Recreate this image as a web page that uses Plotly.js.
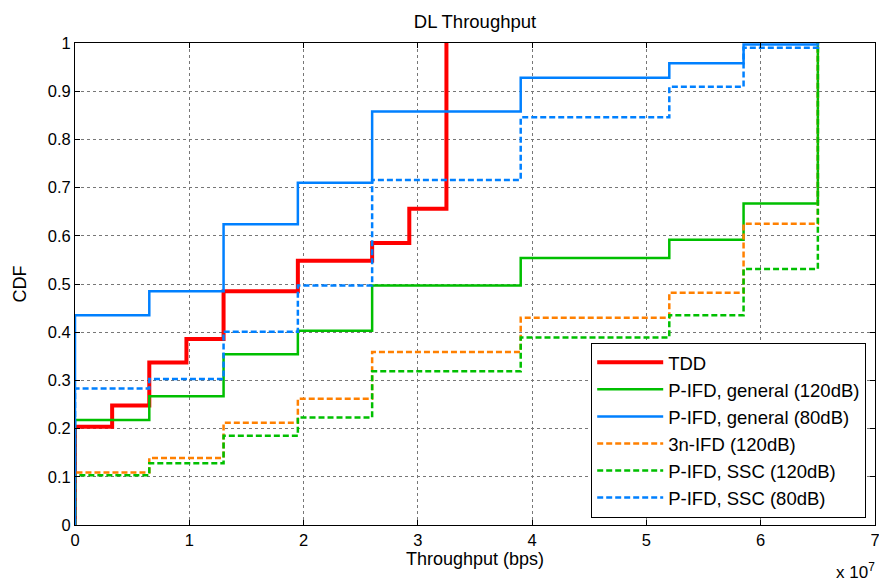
<!DOCTYPE html>
<html><head><meta charset="utf-8">
<script src="https://cdn.plot.ly/plotly-3.0.1.min.js"></script>
<style>html,body{margin:0;padding:0;background:#fff}#chart{width:879px;height:585px}</style>
</head><body><div id="chart"></div>
<script>
// Throughput in units of 1e7 bps
const tddX = [0, 0, 0.325, 0.65, 0.975, 1.3, 1.95, 2.6, 2.925, 3.25];
const tddY = [0, 0.204, 0.248, 0.337, 0.386, 0.485, 0.548, 0.585, 0.656, 1.0];
const stepX = [0, 0, 0.65, 1.3, 1.95, 2.6, 3.9, 5.2, 5.85, 6.5];
const gen120Y = [0, 0.218, 0.267, 0.354, 0.403, 0.497, 0.554, 0.592, 0.667, 1.0];
const gen80Y  = [0, 0.435, 0.485, 0.624, 0.710, 0.858, 0.928, 0.958, 0.997, 1.0];
const ifd3nY  = [0, 0.109, 0.139, 0.212, 0.262, 0.359, 0.430, 0.482, 0.625, 1.0];
const ssc120Y = [0, 0.103, 0.128, 0.185, 0.223, 0.319, 0.389, 0.435, 0.531, 1.0];
const ssc80Y  = [0, 0.283, 0.303, 0.401, 0.497, 0.716, 0.846, 0.909, 0.990, 1.0];
const names = ['TDD','P-IFD, general (120dB)','P-IFD, general (80dB)','3n-IFD (120dB)','P-IFD, SSC (120dB)','P-IFD, SSC (80dB)'];
const xTicks = [0,1,2,3,4,5,6,7];
const yTicks = [0,0.1,0.2,0.3,0.4,0.5,0.6,0.7,0.8,0.9,1];

const green = '#00bf00', blue = '#0080ff', orange = '#ff8000', red = '#ff0000';
const dashS = '6px,3px';
const mk = (x, y, name, color, width, dash, i) => ({
  x: x, y: y, name: name, type: 'scatter', mode: 'lines', legendgroup: 'g' + i,
  line: {shape: 'hv', color: color, width: width, dash: dash}
});
const traces = [
  mk(tddX, tddY, names[0], red, 4, 'solid', 0),
  mk(stepX, gen120Y, names[1], green, 2.5, 'solid', 1),
  mk(stepX, gen80Y, names[2], blue, 2.5, 'solid', 2),
  mk(stepX, ifd3nY, names[3], orange, 2.5, dashS, 3),
  mk(stepX, ssc120Y, names[4], green, 2.5, dashS, 4),
  mk(stepX, ssc80Y, names[5], blue, 2.5, dashS, 5)
];
const axisCommon = {
  showline: true, linecolor: '#000', linewidth: 1, mirror: 'allticks',
  ticks: 'inside', ticklen: 5, tickcolor: '#000', ticklabeloverflow: 'allow',
  showgrid: true, gridcolor: '#777', griddash: 'dot', gridwidth: 1,
  zeroline: false, tickfont: {size: 16.5, color: '#000'}
};
const layout = {
  width: 879, height: 585,
  margin: {l: 75, r: 4, t: 43, b: 60},
  paper_bgcolor: '#fff', plot_bgcolor: '#fff',
  font: {family: 'Liberation Sans, Arial, sans-serif', color: '#000', size: 16},
  title: {text: 'DL Throughput', xref: 'paper', x: 0.5, xanchor: 'center', yref: 'container', y: 0.963, yanchor: 'middle', font: {size: 18.5}},
  xaxis: Object.assign({}, axisCommon, {range: [0, 7], tickvals: xTicks, ticktext: xTicks.map(String),
    title: {text: 'Throughput (bps)', font: {size: 18}, standoff: 4}}),
  yaxis: Object.assign({}, axisCommon, {range: [0, 1], tickvals: yTicks, ticktext: yTicks.map(String),
    title: {text: 'CDF', font: {size: 18}, standoff: 16}}),
  showlegend: true,
  legend: {x: 0.989, xanchor: 'right', y: 0.015, yanchor: 'bottom', bgcolor: '#fff',
    bordercolor: '#000', borderwidth: 1, font: {size: 18.5}, tracegroupgap: 0, itemwidth: 66},
  annotations: [{text: 'x 10<sup>7</sup>', xref: 'paper', yref: 'paper', x: 1.002, y: -0.1215,
    xanchor: 'right', yanchor: 'bottom', showarrow: false, font: {size: 17}}]
};
Plotly.newPlot('chart', traces, layout, {displayModeBar: false, staticPlot: true});
</script></body></html>
